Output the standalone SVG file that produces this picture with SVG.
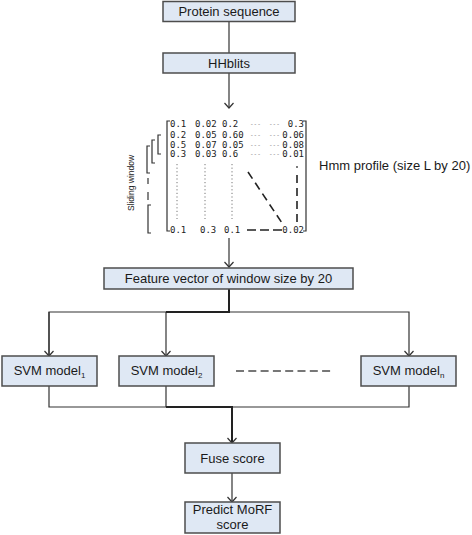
<svg xmlns="http://www.w3.org/2000/svg" width="472" height="535" viewBox="0 0 472 535">
<style>
.box{fill:#dfe8f4;stroke:#4d4d4d;stroke-width:1.5}
.lbl{font-family:"Liberation Sans",Arial,sans-serif;font-size:13px;fill:#1a1a1a;text-anchor:middle}
.sub{font-size:8px}
.ln{fill:none;stroke:#333;stroke-width:1.2}
.thick{fill:none;stroke:#222;stroke-width:2}
.num{font-family:"DejaVu Sans Mono","Liberation Mono",monospace;font-size:9px;fill:#222}
.dots{font-family:"DejaVu Sans Mono",monospace;font-size:6px;fill:#777}
.br{fill:none;stroke:#333;stroke-width:1.2}
.dash{fill:none;stroke:#222;stroke-width:1.6;stroke-dasharray:8 5}
.colon{fill:none;stroke:#777;stroke-width:1;stroke-dasharray:1.2 2.4}
</style>
<defs>
<marker id="arr" markerWidth="12" markerHeight="12" refX="10" refY="6" orient="auto" markerUnits="userSpaceOnUse">
<path d="M5,1.5 L10,6 L5,10.5" fill="none" stroke="#333" stroke-width="1.2"/>
</marker>
</defs>

<g id="connectors">
<line class="ln" x1="229" y1="21" x2="229" y2="53"/>
<line class="ln" x1="229" y1="73" x2="229" y2="108" marker-end="url(#arr)"/>
<line class="ln" x1="229" y1="238" x2="229" y2="267" marker-end="url(#arr)"/>
<line class="thick" x1="229" y1="289" x2="229" y2="312"/>
<polyline class="ln" points="49,356 49,312 409,312 409,356" marker-end="url(#arr)"/>
<line class="ln" x1="49" y1="312" x2="49" y2="356" marker-end="url(#arr)"/>
<line class="ln" x1="166" y1="312" x2="166" y2="356" marker-end="url(#arr)"/>
<line class="thick" x1="166" y1="312" x2="230" y2="312"/>
<polyline class="ln" points="49,386 49,407 409,407 409,386"/>
<line class="ln" x1="166" y1="386" x2="166" y2="407"/>
<line class="thick" x1="166" y1="407" x2="232" y2="407"/>
<line class="thick" x1="232" y1="406" x2="232" y2="443" marker-end="url(#arr)"/>
<line class="ln" x1="232" y1="473" x2="232" y2="502" marker-end="url(#arr)"/>
<line x1="236" y1="371" x2="334" y2="371" stroke="#777" stroke-width="2" stroke-dasharray="8 4.3"/>
</g>

<g id="protein-sequence">
<rect class="box" x="163" y="1.5" width="132" height="20"/>
<text class="lbl" x="229" y="16">Protein sequence</text>
</g>

<g id="hhblits">
<rect class="box" x="163" y="53" width="132" height="20"/>
<text class="lbl" x="229" y="68">HHblits</text>
</g>

<g id="hmm-profile">
<path class="br" d="M170,121 H167 V231 H170" stroke="#8a6a50"/>
<path class="br" d="M303,121 H306 V231 H303"/>
<g class="num">
<text x="170" y="127">0.1</text><text x="195" y="127">0.02</text><text x="222" y="127">0.2</text><text x="304" y="127" text-anchor="end">0.3</text>
<text x="170" y="138">0.2</text><text x="195" y="138">0.05</text><text x="222" y="138">0.60</text><text x="304" y="138" text-anchor="end">0.06</text>
<text x="170" y="148">0.5</text><text x="195" y="148">0.07</text><text x="222" y="148">0.05</text><text x="304" y="148" text-anchor="end">0.08</text>
<text x="170" y="157">0.3</text><text x="195" y="157">0.03</text><text x="222" y="157">0.6</text><text x="304" y="157" text-anchor="end">0.01</text>
<text x="170" y="233">0.1</text><text x="200" y="233">0.3</text><text x="224" y="233">0.1</text><text x="304" y="233" text-anchor="end">0.02</text>
</g>
<g class="dots">
<text x="250" y="126">---</text><text x="269" y="126">---</text>
<text x="250" y="137">---</text><text x="269" y="137">---</text>
<text x="250" y="147">---</text><text x="269" y="147">---</text>
<text x="250" y="156">---</text><text x="269" y="156">---</text>
</g>
<line class="colon" x1="177" y1="164" x2="177" y2="219"/>
<line class="colon" x1="205" y1="164" x2="205" y2="219"/>
<line class="colon" x1="232" y1="164" x2="232" y2="219"/>
<line class="dash" x1="248" y1="172" x2="282" y2="223"/>
<line x1="297" y1="166" x2="297" y2="168" stroke="#444" stroke-width="1.4"/>
<line class="dash" x1="297" y1="175" x2="297" y2="223"/>
<line x1="247" y1="230" x2="283" y2="230" stroke="#222" stroke-width="1.6" stroke-dasharray="9 4"/>
<text class="lbl" x="319" y="170" style="text-anchor:start">Hmm profile (size L by 20)</text>
</g>

<g id="sliding-window">
<path class="br" d="M161,135 H158 V154 H161"/>
<path class="br" d="M155,140 H152 V163 H155"/>
<path class="br" d="M150,146 H147 V173 H150"/>
<line x1="148" y1="178" x2="148" y2="184" stroke="#333" stroke-width="1.2"/>
<line x1="148" y1="192" x2="148" y2="200" stroke="#333" stroke-width="1.2"/>
<path class="br" d="M151,205 H148 V233 H151"/>
<text transform="translate(134,183) rotate(-90)" style="font-family:'Liberation Sans',Arial,sans-serif;font-size:8.5px;fill:#222;text-anchor:middle">Sliding window</text>
</g>

<g id="feature-vector">
<rect class="box" x="104" y="268" width="249" height="21"/>
<text class="lbl" x="228.5" y="283">Feature vector of window size by 20</text>
</g>

<g id="svm-model-1">
<rect class="box" x="2" y="356" width="95" height="30"/>
<text class="lbl" x="49.5" y="375">SVM model<tspan class="sub" dy="3">1</tspan></text>
</g>

<g id="svm-model-2">
<rect class="box" x="119" y="356" width="95" height="30"/>
<text class="lbl" x="166.5" y="375">SVM model<tspan class="sub" dy="3">2</tspan></text>
</g>

<g id="svm-model-n">
<rect class="box" x="361" y="356" width="95" height="30"/>
<text class="lbl" x="408.5" y="375">SVM model<tspan class="sub" dy="3">n</tspan></text>
</g>

<g id="fuse-score">
<rect class="box" x="185" y="443" width="95" height="30"/>
<text class="lbl" x="232.5" y="463">Fuse score</text>
</g>

<g id="predict-morf">
<rect class="box" x="185" y="502" width="95" height="31"/>
<text class="lbl" x="232.5" y="514">Predict MoRF</text>
<text class="lbl" x="232.5" y="529">score</text>
</g>
</svg>
